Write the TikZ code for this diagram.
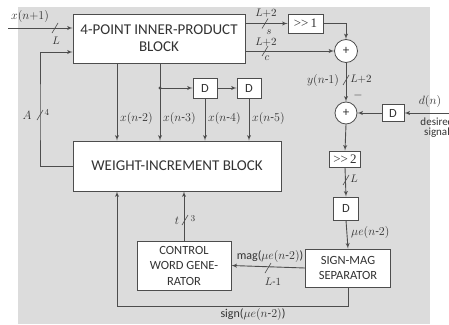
\documentclass[tikz,border=0pt]{standalone}
\usepackage{fontspec}
\setmainfont{Carlito}
\newfontfamily\lserif{Liberation Serif}
\usetikzlibrary{arrows}
\usetikzlibrary{positioning}
\definecolor{linegray}{HTML}{4D4D4D}
\definecolor{bggray}{HTML}{DCDCDC}
\definecolor{textgray}{HTML}{333333}

\begin{document}
\begin{tikzpicture}[
		x=1pt, y=-1pt,
		blk/.style={draw=linegray,fill=white,line width=0.8pt,align=center,text=textgray,inner sep=1pt,font=\fontsize{12.5}{15}\selectfont},
		bigblk/.style={blk,font=\fontsize{15}{17}\selectfont},
		dly/.style={blk,minimum width=24pt,minimum height=20pt},
		sum/.style={circle,draw=linegray,fill=white,line width=0.8pt,minimum size=23pt,inner sep=0pt,text=textgray,font=\fontsize{13}{13}\selectfont},
		wire/.style={draw=linegray,line width=0.9pt},
		bus/.style={draw=linegray,line width=0.6pt},
		lbl/.style={text=textgray,inner sep=1pt,font=\fontsize{12}{14}\selectfont},
		wlbl/.style={lbl,font=\fontsize{10.5}{12}\selectfont},
		>=latex']
	%% background
	\fill[bggray] (18,7) rectangle (430,324);
	\useasboundingbox (0,0) rectangle (449,324);
	%% define blocks
	\node (ipb) at (159,38.5) [bigblk,minimum width=172pt,minimum height=49pt] {4-POINT INNER-PRODUCT\\BLOCK};
	\node (wib) at (177,166) [bigblk,minimum width=208pt,minimum height=50pt] {WEIGHT-INCREMENT BLOCK};
	\node (dx1) at (205,88) [dly] {D};
	\node (dx2) at (249,88) [dly] {D};
	\node (shr1) at (305.5,23.5) [blk,minimum width=35pt,minimum height=19pt,font=\lserif\fontsize{13}{13}\selectfont] {>{}>\,1};
	\node (add1) at (346,51) [sum] {+};
	\node (add2) at (346,113) [sum,minimum size=22pt] {+};
	\node (dd) at (393,113) [dly,minimum width=22pt,minimum height=17pt] {D};
	\node (shr2) at (345,159) [blk,minimum width=31pt,minimum height=16pt,font=\lserif\fontsize{13}{13}\selectfont] {>{}>\,2};
	\node (dx3) at (346,208.5) [dly,minimum width=25pt,minimum height=23pt] {D};
	\node (sms) at (348,268) [blk,minimum width=85pt,minimum height=38pt] {SIGN-MAG\\SEPARATOR};
	\node (cwg) at (184,265.5) [blk,minimum width=94pt,minimum height=49pt,font=\fontsize{12.5}{15.5}\selectfont] {CONTROL\\WORD GENE-\\RATOR};
	%% define points
	\coordinate (xin) at (8,28);
	\coordinate (tap) at (160,88);
	\coordinate (din) at (449,113);
	\coordinate (sxin) at (55,28);
	\coordinate (ss) at (265,23.5);
	\coordinate (sc) at (265,51);
	\coordinate (sy) at (346,80);
	\coordinate (sa) at (40,115);
	\coordinate (sl) at (346,180);
	\coordinate (st) at (185,220);
	\coordinate (sm) at (268,268);
	%% define arrows
	\draw[wire,->] (xin) -- (xin -| ipb.west);
	\draw[wire,->] (wib.west) -| (sa) |- (ipb.west |- 0,52);
	\draw[wire,->] (ipb.south -| 117,0) -- (wib.north -| 117,0);
	\draw[wire,->] (ipb.south -| tap) -- (wib.north -| tap);
	\fill[linegray] (tap) circle (1.6pt);
	\draw[wire,->] (tap) -- (dx1);
	\draw[wire,->] (dx1) -- (dx2);
	\draw[wire,->] (dx1.south) -- (dx1.south |- wib.north);
	\draw[wire,->] (dx2.south) -- (dx2.south |- wib.north);
	\draw[wire,->] (ipb.east |- shr1.west) -- (shr1.west);
	\draw[wire,->] (shr1.east) -| (add1.north);
	\draw[wire,->] (ipb.east |- add1.west) -- (add1.west);
	\draw[wire,->] (add1.south) -- (add2.north);
	\draw[wire,->] (din) -- (dd.east);
	\draw[wire,->] (dd.west) -- (add2.east);
	\draw[wire,->] (add2.south) -- (shr2.north);
	\draw[wire,->] (shr2.south) -- (dx3.north);
	\draw[wire,->] (dx3.south) -- (sms.north);
	\draw[wire,->] (sms.west) -- (cwg.east);
	\draw[wire,->] (cwg.north) -- (cwg.north |- wib.south);
	\draw[wire,->] (sms.south) -- ++(0,19) -| (wib.south -| 117,0);
	%% bus widths
	\foreach \s in {sxin,ss,sc,sy,sa,sl,st,sm}
		\draw[bus] (\s) ++(-3,5) -- ++(6,-10);
	%% define labels
	\node (lxin) at (30,16) [lbl] {$x(n{+}1)$};
	\node (lwxin) at (56,41) [wlbl] {$L$};
	\node (lws1) at (266,13) [wlbl] {$L{+}2$};
	\node (lws2) at (269,32) [wlbl] {$s$};
	\node (lwc1) at (266,42) [wlbl] {$L{+}2$};
	\node (lwc2) at (267,58) [wlbl] {$c$};
	\node (ly) at (323,80) [lbl] {$y(n\mbox{-}1)$};
	\node (lwy) at (361,79) [wlbl] {$L{+}2$};
	\node (lminus) at (358,95) [lbl] {$-$};
	\node (ldn) at (430,101) [lbl] {$d(n)$};
	\node (ldes) at (437,128) [lbl,align=center,font=\fontsize{11}{10}\selectfont] {desired\\signal};
	\node (lwa1) at (27,115) [lbl] {$A$};
	\node (lwa2) at (47,113) [lbl,font=\fontsize{9}{9}\selectfont] {$4$};
	\node (lx2) at (119,118) [lbl,anchor=west] {$x(n\mbox{-}2)$};
	\node (lx3) at (162,118) [lbl,anchor=west] {$x(n\mbox{-}3)$};
	\node (lx4) at (207,118) [lbl,anchor=west] {$x(n\mbox{-}4)$};
	\node (lx5) at (251,118) [lbl,anchor=west] {$x(n\mbox{-}5)$};
	\node (lwl) at (354,179) [wlbl] {$L$};
	\node (lmu) at (350,232) [lbl,anchor=west] {$\mu e(n\mbox{-}2)$};
	\node (lwt1) at (177,221) [lbl] {$t$};
	\node (lwt2) at (193,219) [lbl,font=\fontsize{9}{9}\selectfont] {$3$};
	\node (lmag) at (270,256) [lbl] {mag($\mu e(n\mbox{-}2)$)};
	\node (lwm) at (273,282) [wlbl] {$L\mbox{-}1$};
	\node (lsign) at (253,314) [lbl] {sign($\mu e(n\mbox{-}2)$)};
\end{tikzpicture}
\end{document}
